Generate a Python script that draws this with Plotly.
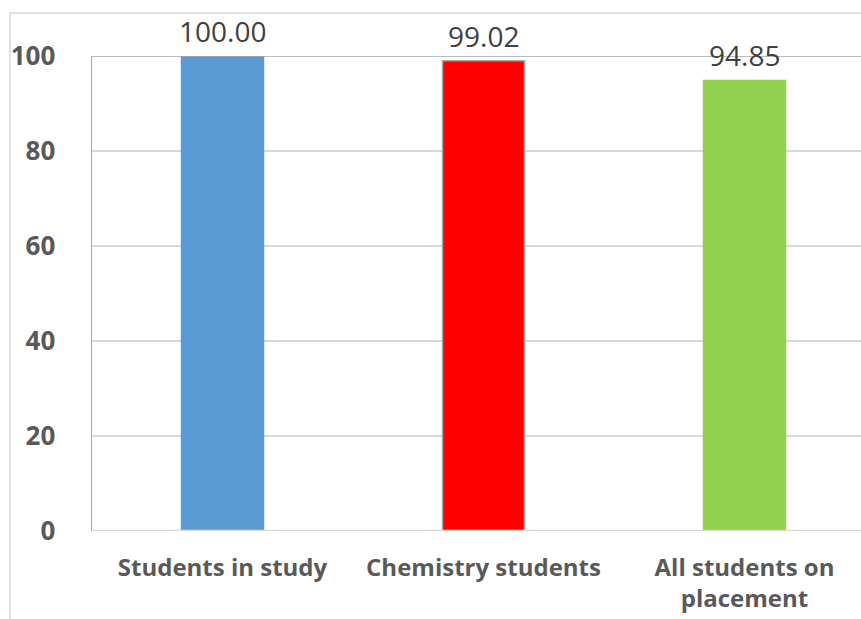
import plotly.graph_objects as go

categories = ["Students in study", "Chemistry students", "All students on<br>placement"]
values = [100.00, 99.02, 94.85]
labels = ["100.00", "99.02", "94.85"]
colors = ["#5B9BD5", "#FF0000", "#92D050"]
outline_colors = ["#5B9BD5", "#A5A5A5", "#92D050"]
y_ticks = [0, 20, 40, 60, 80, 100]

W, H = 861, 619
L, T = 92, 56
B = H - 531
R = 0

fig = go.Figure()
fig.add_trace(go.Bar(
    x=list(range(len(categories))), y=values,
    marker=dict(color=colors, line=dict(color=outline_colors, width=1.5)),
    width=0.314,
    hoverinfo="skip",
))

for i, (v, t) in enumerate(zip(values, labels)):
    fig.add_annotation(
        x=i, y=v, text=t, showarrow=False, yanchor="bottom", yshift=4,
        font=dict(family="Open Sans", size=28, color="#404040"),
    )

fig.update_layout(
    width=W, height=H,
    margin=dict(l=L, r=R, t=T, b=B, pad=0),
    paper_bgcolor="white", plot_bgcolor="white",
    showlegend=False,
    xaxis=dict(
        range=[-0.5, -0.5 + (W - L) / 261.0],
        tickmode="array", tickvals=list(range(len(categories))), ticktext=categories,
        tickfont=dict(family="Open Sans", size=24, color="#595959", weight="bold"),
        showgrid=False, zeroline=False, showline=False,
        ticks="outside", ticklen=15, tickcolor="rgba(0,0,0,0)",
        automargin=False, fixedrange=True,
    ),
    yaxis=dict(
        range=[0, 100],
        tickmode="array", tickvals=y_ticks, ticktext=[str(v) for v in y_ticks],
        tickfont=dict(family="Open Sans", size=26, color="#595959", weight="bold"),
        showgrid=True, gridcolor="#D9D9D9", gridwidth=1.3,
        zeroline=False,
        showline=True, linecolor="#A6A6A6", linewidth=1.5,
        ticks="outside", ticklen=30, tickcolor="rgba(0,0,0,0)",
        automargin=False, fixedrange=True,
    ),
    shapes=[
        dict(type="line", xref="paper", yref="y", x0=0, x1=1, y0=0, y1=0,
             line=dict(color="#D9D9D9", width=2.5), layer="above"),
        dict(type="line", xref="paper", yref="y", x0=0, x1=1, y0=100, y1=100,
             line=dict(color="#A6A6A6", width=1.5), layer="above"),
        dict(type="rect", xref="paper", yref="paper",
             x0=(10 - L) / (W - L), x1=1.2,
             y0=-0.4, y1=(H - B - 13) / (H - T - B),
             line=dict(color="#D9D9D9", width=1.5), layer="below"),
    ],
)

fig.write_html(
    "out.html",
    config={"displayModeBar": False, "staticPlot": True},
    post_script="document.body.style.margin='0';document.body.style.overflow='hidden';",
)
